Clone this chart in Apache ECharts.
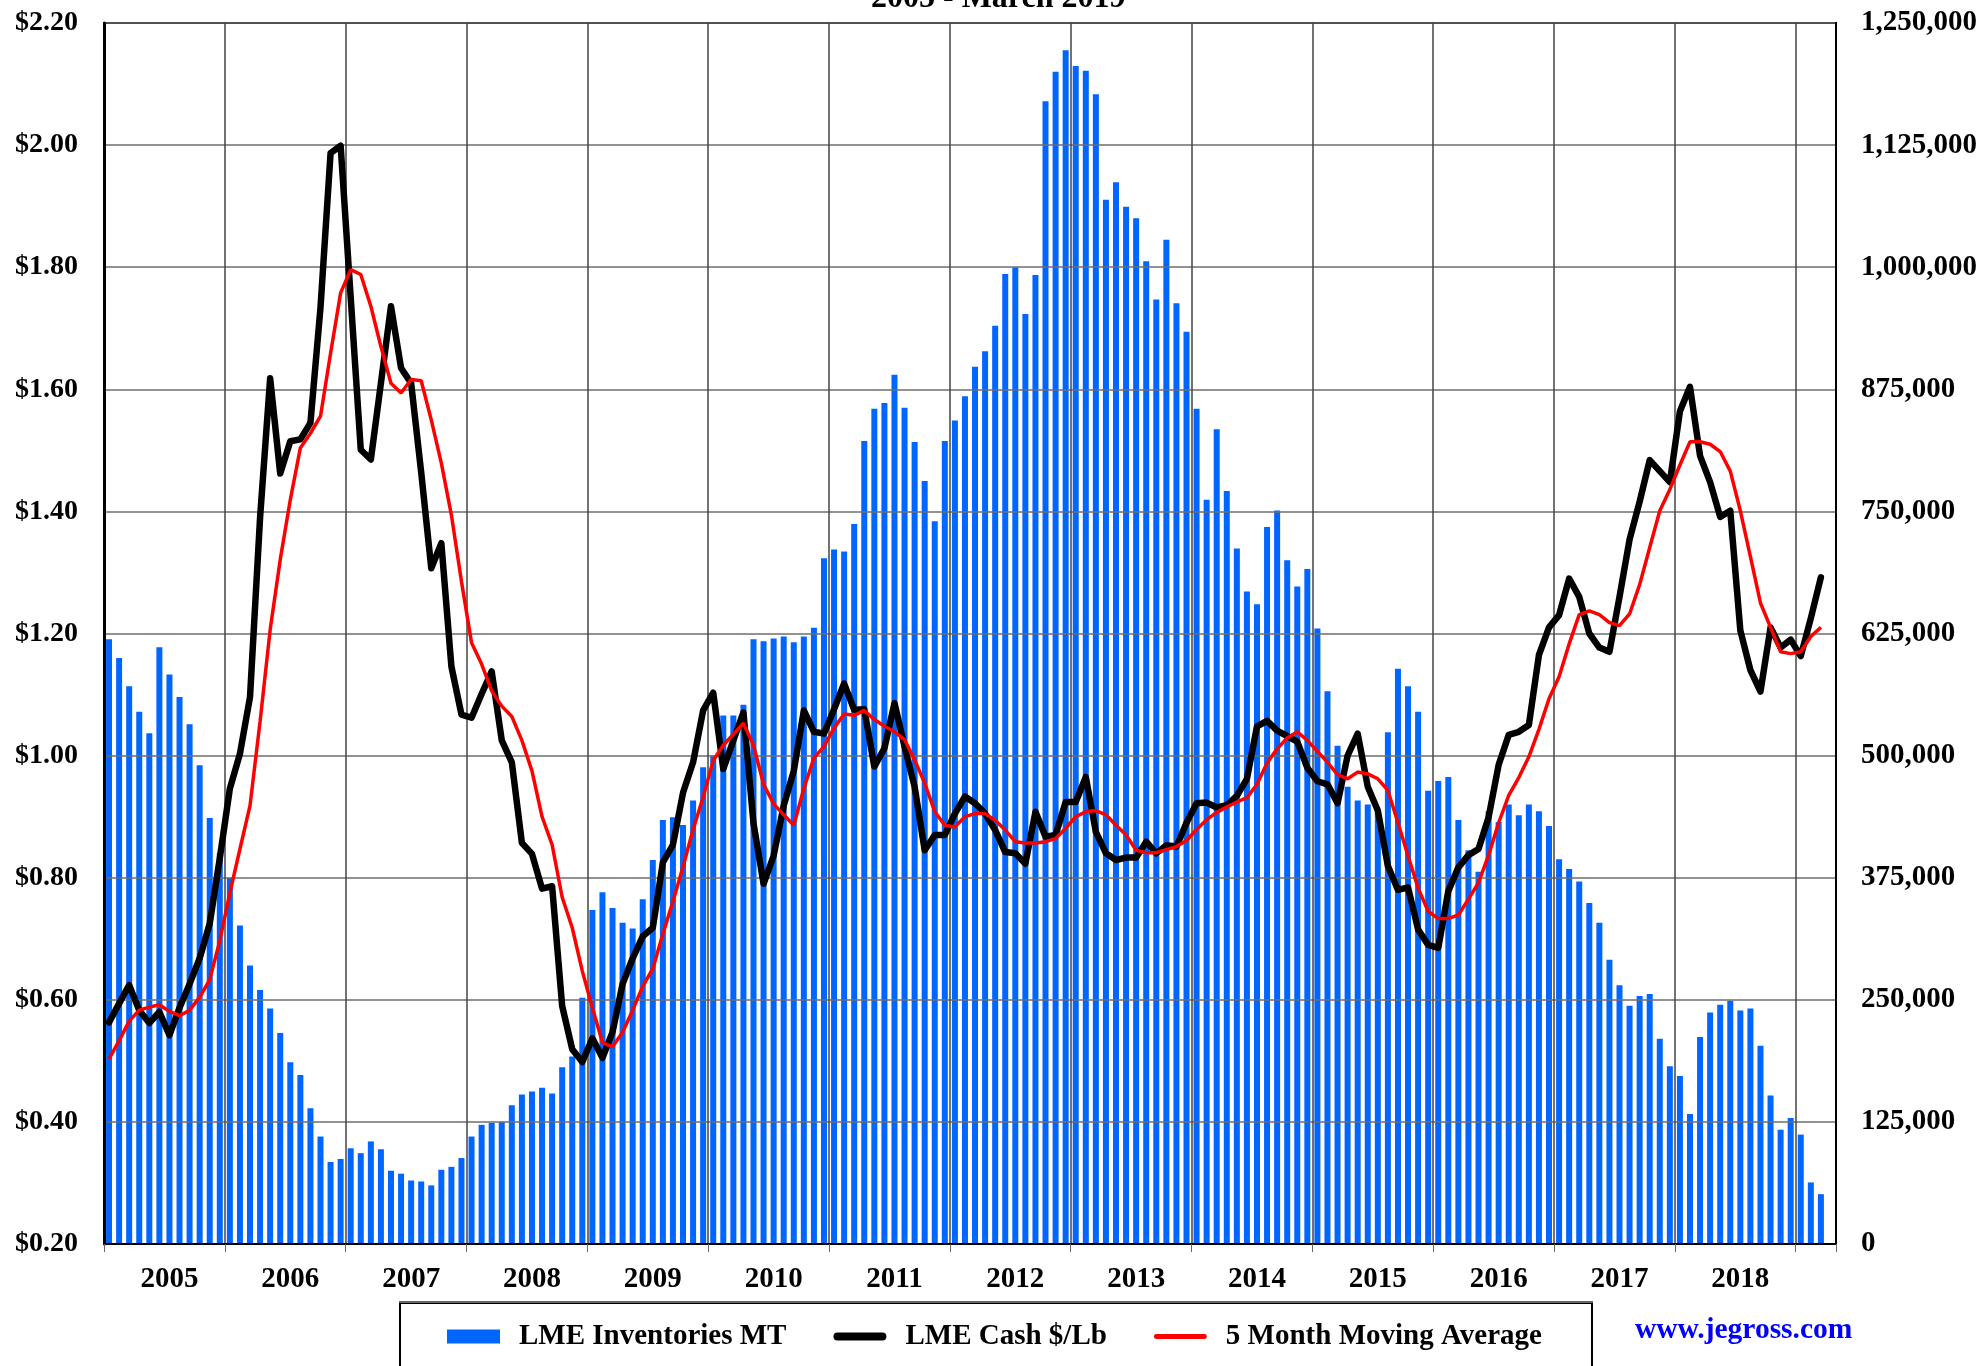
<!DOCTYPE html>
<html>
<head>
<meta charset="utf-8">
<script src="https://cdn.jsdelivr.net/npm/echarts@6/dist/echarts.min.js"></script>
<style>
html,body{margin:0;padding:0;background:#fff;}
#chart{width:1984px;height:1366px;}
</style>
</head>
<body>
<div id="chart"></div>
<script>
// Month categories: Jan 2005 .. Apr 2019 (last slot empty)
const startYear = 2005;
const slotCount = 172;
const months = [];
for (let i = 0; i < slotCount; i++) {
  const y = startYear + Math.floor(i / 12);
  const m = (i % 12) + 1;
  months.push(y + '-' + (m < 10 ? '0' + m : m));
}

// LME inventories, metric tonnes (right axis)
const inventory = [
  619000,600000,571000,545000,523000,611000,583000,560000,532000,490000,436000,400000,
  375000,326000,285000,260000,241000,216000,186000,173000,139000,110000,84000,87000,
  98000,93000,105000,97000,75000,72000,65000,64000,60000,76000,79000,88000,
  110000,122000,124000,125000,142000,153000,156000,160000,154000,181000,192000,252000,
  342000,360000,344000,329000,323000,353000,393000,434000,437000,429000,454000,488000,
  500000,541000,541000,552000,619000,617000,620000,622000,616000,622000,631000,702000,
  711000,709000,737000,822000,855000,861000,890000,856000,821000,781000,740000,822000,
  843000,868000,898000,914000,940000,993000,1000000,952000,992000,1170000,1200000,1222000,
  1206000,1201000,1177000,1069000,1087000,1062000,1050000,1006000,967000,1028000,963000,934000,
  855000,762000,834000,771000,712000,668000,655000,734000,751000,700000,673000,691000,
  630000,566000,510000,468000,454000,450000,445000,524000,589000,571000,545000,464000,
  474000,478000,434000,403000,381000,443000,432000,450000,439000,450000,443000,428000,
  394000,384000,371000,349000,329000,291000,265000,244000,254000,256000,210000,182000,
  172000,133000,212000,237000,245000,249000,239000,241000,203000,152000,117000,129000,
  112000,63000,51000,null
];

// LME cash price, $/lb (left axis)
const cashPrice = [
  0.563,0.594,0.624,0.583,0.562,0.580,0.542,0.587,0.626,0.668,0.725,0.832,
  0.946,1.003,1.096,1.390,1.618,1.462,1.515,1.518,1.545,1.734,1.987,1.999,
  1.750,1.501,1.485,1.610,1.736,1.635,1.610,1.464,1.307,1.348,1.146,1.067,
  1.062,1.101,1.138,1.025,0.989,0.857,0.839,0.782,0.786,0.590,0.519,0.498,
  0.537,0.505,0.547,0.626,0.668,0.704,0.718,0.825,0.854,0.939,0.989,1.074,
  1.103,0.978,1.025,1.071,0.889,0.790,0.836,0.918,0.975,1.074,1.039,1.036,
  1.076,1.118,1.075,1.076,0.982,1.012,1.086,1.015,0.949,0.845,0.870,0.870,
  0.905,0.933,0.922,0.905,0.878,0.842,0.840,0.823,0.908,0.867,0.870,0.924,
  0.924,0.965,0.875,0.840,0.829,0.833,0.833,0.859,0.840,0.853,0.851,0.890,
  0.922,0.923,0.915,0.919,0.934,0.962,1.048,1.057,1.041,1.032,1.023,0.980,
  0.958,0.953,0.922,1.000,1.036,0.949,0.910,0.819,0.780,0.784,0.715,0.690,
  0.685,0.778,0.817,0.837,0.847,0.899,0.985,1.034,1.039,1.050,1.165,1.210,
  1.230,1.290,1.260,1.200,1.177,1.170,1.260,1.354,1.416,1.484,1.466,1.448,
  1.564,1.604,1.491,1.448,1.391,1.401,1.205,1.140,1.105,1.210,1.177,1.190,
  1.163,1.225,1.292,null
];

// 5 month moving average, $/lb (left axis)
const movingAvg = [
  0.503,0.533,0.565,0.583,0.588,0.592,0.581,0.574,0.583,0.604,0.633,0.697,
  0.775,0.847,0.918,1.056,1.206,1.321,1.419,1.504,1.528,1.556,1.659,1.758,
  1.796,1.788,1.736,1.670,1.610,1.594,1.616,1.614,1.550,1.479,1.394,1.285,
  1.185,1.150,1.106,1.081,1.064,1.025,0.975,0.900,0.854,0.768,0.718,0.647,
  0.587,0.530,0.523,0.547,0.583,0.622,0.651,0.708,0.761,0.818,0.879,0.932,
  0.992,1.017,1.035,1.053,1.017,0.953,0.921,0.903,0.886,0.946,0.996,1.015,
  1.045,1.068,1.066,1.074,1.059,1.048,1.039,1.026,0.993,0.955,0.908,0.886,
  0.883,0.900,0.905,0.905,0.894,0.878,0.859,0.857,0.857,0.859,0.864,0.881,
  0.900,0.908,0.910,0.903,0.886,0.870,0.845,0.841,0.841,0.846,0.851,0.861,
  0.879,0.895,0.907,0.916,0.924,0.931,0.953,0.988,1.011,1.029,1.039,1.025,
  1.007,0.989,0.969,0.962,0.973,0.970,0.962,0.943,0.890,0.836,0.783,0.745,
  0.733,0.733,0.739,0.765,0.792,0.837,0.890,0.935,0.964,0.998,1.043,1.093,
  1.129,1.183,1.231,1.237,1.231,1.218,1.213,1.232,1.280,1.341,1.401,1.436,
  1.476,1.514,1.514,1.510,1.498,1.466,1.401,1.326,1.250,1.210,1.170,1.167,
  1.170,1.195,1.210,null
];

const priceTicks = { min: 0.2, max: 2.2, interval: 0.2 };
const stockTicks = { min: 0, max: 1250000, interval: 125000 };
const titleText = '2005 - March 2019';
const siteText = 'www.jegross.com';
const seriesNames = ['LME Inventories MT', 'LME Cash $/Lb', '5 Month Moving Average'];

const FONT = '"Liberation Serif", "Times New Roman", serif';
// legend glyphs (bbox 53 x 14, thick bar for the cash line, thinner for the average)
const blackLineIcon = 'path://M0,0L0,0ZM4,3L49,3A4,4,0,0,1,49,11L4,11A4,4,0,0,1,4,3ZM53,14L53,14Z';
const redLineIcon = 'path://M0,0L0,0ZM2,4.5L51,4.5A2.5,2.5,0,0,1,51,9.5L2,9.5A2.5,2.5,0,0,1,2,4.5ZM53,14L53,14Z';

const chart = echarts.init(document.getElementById('chart'), null, { renderer: 'canvas' });

chart.setOption({
  animation: false,
  backgroundColor: '#ffffff',
  title: {
    text: titleText,
    left: 866,
    top: -22,
    textStyle: { fontFamily: FONT, fontWeight: 'bold', fontSize: 32, color: '#000' }
  },
  grid: {
    left: 104, right: 148, top: 23, bottom: 122,
    show: true, borderColor: '#000', borderWidth: 2, backgroundColor: 'transparent'
  },
  legend: {
    data: [
      { name: seriesNames[0], icon: 'rect' },
      { name: seriesNames[1], icon: blackLineIcon },
      { name: seriesNames[2], icon: redLineIcon }
    ],
    left: 442,
    top: 1317,
    itemWidth: 53,
    itemHeight: 14,
    itemGap: 47,
    textStyle: { fontFamily: FONT, fontWeight: 'bold', fontSize: 29, color: '#000', padding: [0, 0, 0, 14] }
  },
  graphic: [
    {
      type: 'rect',
      shape: { x: 400, y: 1303, width: 1192, height: 120 },
      style: { fill: 'none', stroke: '#000', lineWidth: 2 },
      silent: true
    },
    {
      type: 'line',
      shape: { x1: 399, y1: 1302, x2: 1593, y2: 1302 },
      style: { stroke: '#666', lineWidth: 2 },
      silent: true
    },
    {
      type: 'text',
      x: 1635, y: 1330,
      style: {
        text: siteText, fill: '#0000ff',
        font: 'bold 29.5px ' + FONT,
        align: 'left', verticalAlign: 'middle'
      },
      silent: true
    }
  ],
  xAxis: {
    type: 'category',
    data: months,
    boundaryGap: true,
    axisLine: { show: true, lineStyle: { color: '#000', width: 2 } },
    axisTick: {
      show: true, length: 8, lineStyle: { color: '#666', width: 1 },
      interval: function (i) { return i % 12 === 0; }
    },
    axisLabel: {
      interval: function (i) { return i % 12 === 6; },
      formatter: function (v) { return v.slice(0, 4); },
      margin: 21,
      fontFamily: FONT, fontWeight: 'bold', fontSize: 29, color: '#000'
    },
    splitLine: {
      show: true,
      interval: function (i) { return i % 12 === 0 && i > 0; },
      lineStyle: { color: '#444', width: 1.5 }
    }
  },
  yAxis: [
    {
      type: 'value',
      position: 'left',
      min: priceTicks.min, max: priceTicks.max, interval: priceTicks.interval,
      axisLine: { show: true, lineStyle: { color: '#000', width: 3 } },
      axisTick: { show: false },
      axisLabel: {
        formatter: function (v) { return '$' + v.toFixed(2); },
        margin: 26,
        fontFamily: FONT, fontWeight: 'bold', fontSize: 28, color: '#000'
      },
      splitLine: { show: true, lineStyle: { color: '#6e6e6e', width: 1.5 } }
    },
    {
      type: 'value',
      position: 'right',
      min: stockTicks.min, max: stockTicks.max, interval: stockTicks.interval,
      axisLine: { show: true, lineStyle: { color: '#000', width: 2 } },
      axisTick: { show: false },
      axisLabel: {
        formatter: function (v) { return Math.round(v).toLocaleString('en-US'); },
        margin: 25,
        fontFamily: FONT, fontWeight: 'bold', fontSize: 29, color: '#000'
      },
      splitLine: { show: false }
    }
  ],
  series: [
    {
      name: seriesNames[0],
      type: 'bar',
      yAxisIndex: 1,
      data: inventory,
      barWidth: 6,
      z: -1,
      itemStyle: { color: '#0066ff' }
    },
    {
      name: seriesNames[1],
      type: 'line',
      yAxisIndex: 0,
      data: cashPrice,
      showSymbol: false,
      symbol: 'none',
      z: 3,
      lineStyle: { color: '#000', width: 6.5, join: 'round', cap: 'round' },
      itemStyle: { color: '#000' }
    },
    {
      name: seriesNames[2],
      type: 'line',
      yAxisIndex: 0,
      data: movingAvg,
      showSymbol: false,
      symbol: 'none',
      z: 4,
      lineStyle: { color: '#ff0000', width: 3.5 },
      itemStyle: { color: '#ff0000' }
    }
  ]
});
</script>
</body>
</html>
